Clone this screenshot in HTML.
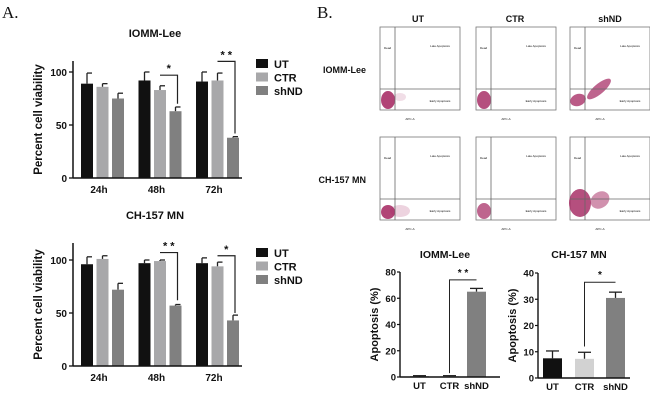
<!DOCTYPE html>
<html><head><meta charset="utf-8"><style>
html,body{margin:0;padding:0;background:#fff;}
svg{display:block;font-family:"Liberation Sans",Arial,sans-serif;}
</style></head><body>
<svg id="fig" width="650" height="400" viewBox="0 0 650 400"></svg>
<script>
const groups=["24h","48h","72h"];
const seriesNames=["UT","CTR","shND"];
const iommUT=[89,92,91], iommUTe=[10,8,9];
const iommCTR=[86,83,92], iommCTRe=[3,4,7];
const iommSH=[75,63,38], iommSHe=[5,4,1];
const chUT=[96,97,97], chUTe=[7,3,5];
const chCTR=[101,99,94], chCTRe=[3,1,4];
const chSH=[72,57,43], chSHe=[6,1,5];
const viabTicks=[0,50,100];
const apoCats=["UT","CTR","shND"];
const apoIOMM=[0.5,0.5,65], apoIOMMe=[0.5,0.5,2.5];
const apoCH=[7.5,7.3,30.5], apoCHe=[2.8,2.5,2.2];
const apoIOMMTicks=[0,20,40,60,80];
const apoCHTicks=[0,10,20,30,40];

const NS="http://www.w3.org/2000/svg";
const svg=document.getElementById('fig');
function el(tag,attrs,parent,name){const e=document.createElementNS(NS,tag);for(const k in attrs)e.setAttribute(k,attrs[k]);
 
 
 (parent||svg).appendChild(e);return e;}
function txt(x,y,s,size,name,opts){const t=el('text',Object.assign({x:x,y:y,'font-size':size,'text-anchor':'middle',fill:'#111'},opts||{}),null,name);t.textContent=s;return t;}

txt(2,18,"A.",17,"panel-a-label",{'text-anchor':'start','font-family':'Liberation Serif'});
txt(317,18,"B.",17,"panel-b-label",{'text-anchor':'start','font-family':'Liberation Serif'});

const cols=["#111111","#a8a8aa","#808080"];
function viab(title,y0,y100,top,ut,ute,ctr,ctre,sh,she,sig,legY){
 const ax=73, xend=242;
 const Y=v=>y0+(y100-y0)*v/100;
 txt(155,top-24,title,11,"chart-title",{'font-weight':'bold'});
 const sets=[[ut,ute],[ctr,ctre],[sh,she]];
 groups.forEach((g,gi)=>{
  const gx=81+gi*57.5;
  sets.forEach((s,si)=>{
   const x=gx+si*15.5, w=12, v=s[0][gi], e=s[1][gi];
   el('line',{x1:x+w/2,x2:x+w/2,y1:Y(v),y2:Y(v+e),stroke:'#222','stroke-width':1.3},null,'error-bar');
   el('line',{x1:x+w/2,x2:x+w-1,y1:Y(v+e),y2:Y(v+e),stroke:'#222','stroke-width':1.3},null,'error-cap');
   el('rect',{x:x,y:Y(v),width:w,height:y0-Y(v),fill:cols[si]},null,'bar-'+seriesNames[si].toLowerCase()+'-'+g);
  });
  txt(gx+18,y0+15,g,10,"x-tick-label",{'font-weight':'bold'});
 });
 sig.forEach(sg=>{
  const gi=sg[0], gx=81+gi*57.5;
  const x1=gx+15.5+6, x2=gx+31+8, hy=Y(sg[1]);
  el('path',{d:`M${x1} ${hy} H${x2} V${Y(sg[2])}`,fill:'none',stroke:'#222','stroke-width':1.2},null,'significance-bracket');
  txt((x1+x2)/2,hy-3,sg[3],11,"significance-stars",{'font-weight':'bold'});
 });
 el('line',{x1:ax,x2:ax,y1:top,y2:y0,stroke:'#111','stroke-width':1.5},null,'y-axis');
 el('line',{x1:ax,x2:xend,y1:y0,y2:y0,stroke:'#111','stroke-width':1.5},null,'x-axis');
 viabTicks.forEach(t=>{el('line',{x1:ax-4,x2:ax,y1:Y(t),y2:Y(t),stroke:'#111','stroke-width':1.3},null,'y-tick');
  txt(ax-6,Y(t)+4,String(t),10,"y-tick-label",{'text-anchor':'end','font-weight':'bold'});});
 txt(0,0,"Percent cell viability",11.5,"y-axis-title",{'font-weight':'bold',transform:`translate(42,${(top+y0)/2}) rotate(-90)`});
 seriesNames.forEach((n,i)=>{
  el('rect',{x:256,y:legY+i*13.5,width:12,height:9,fill:cols[i]},null,'legend-swatch-'+n.toLowerCase());
  txt(274,legY+i*13.5+9,n,11,"legend-entry",{'text-anchor':'start','font-weight':'bold'});
 });
}
viab("IOMM-Lee",178,72,61,iommUT,iommUTe,iommCTR,iommCTRe,iommSH,iommSHe,[[1,97,70,"*"],[2,110,42,"* *"]],59);
viab("CH-157 MN",366,260,243,chUT,chUTe,chCTR,chCTRe,chSH,chSHe,[[1,107,62,"* *"],[2,104,50,"*"]],248);

function apo(title,ax,xend,y0,ytop,tmax,ticks,vals,errs,barX,barC,sig){
 const Y=v=>y0+(ytop-y0)*v/tmax;
 txt((ax+xend)/2-5,258,title,10.5,"apoptosis-chart-title",{'font-weight':'bold'});
 vals.forEach((v,i)=>{
  const x=barX[i], w=19, e=errs[i];
  el('line',{x1:x+w/2,x2:x+w/2,y1:Y(v),y2:Y(v+e),stroke:'#222','stroke-width':1.3},null,'error-bar');
  el('line',{x1:x+3,x2:x+w-3,y1:Y(v+e),y2:Y(v+e),stroke:'#222','stroke-width':1.3},null,'error-cap');
  el('rect',{x:x,y:Y(v),width:w,height:y0-Y(v),fill:barC[i]},null,'bar-'+apoCats[i].toLowerCase());
  txt(x+w/2,y0+12,apoCats[i],9.5,"x-tick-label",{'font-weight':'bold'});
 });
 const xa=barX[1]+9.5, xb=barX[2]+9.5;
 el('path',{d:`M${xa} ${Y(sig[1])} V${Y(sig[0])} H${xb}`,fill:'none',stroke:'#222','stroke-width':1},null,'significance-bracket');
 txt((xa+xb)/2,Y(sig[0])-4,sig[2],10,"significance-stars",{'font-weight':'bold'});
 el('line',{x1:ax,x2:ax,y1:ytop,y2:y0,stroke:'#111','stroke-width':1.4},null,'y-axis');
 el('line',{x1:ax,x2:xend,y1:y0,y2:y0,stroke:'#111','stroke-width':1.4},null,'x-axis');
 ticks.forEach(t=>{el('line',{x1:ax-3,x2:ax,y1:Y(t),y2:Y(t),stroke:'#111','stroke-width':1.2},null,'y-tick');
  txt(ax-4,Y(t)+3.5,String(t),9.5,"y-tick-label",{'text-anchor':'end','font-weight':'bold'});});
 txt(0,0,"Apoptosis (%)",11,"y-axis-title",{'font-weight':'bold',transform:`translate(${ax-22},${(ytop+y0)/2}) rotate(-90)`});
}
apo("IOMM-Lee",400,500,377,272,80,apoIOMMTicks,apoIOMM,apoIOMMe,[410,440,467],["#111","#999","#808080"],[74,3,"* *"]);
apo("CH-157 MN",538,630,378,273,40,apoCHTicks,apoCH,apoCHe,[543,575,606],["#111","#d2d2d2","#808080"],[36.5,12,"*"]);

// Flow cytometry panels
txt(418,22,"UT",9,"flow-col-ut",{'font-weight':'bold'});
txt(515,22,"CTR",9,"flow-col-ctr",{'font-weight':'bold'});
txt(610,22,"shND",9,"flow-col-shnd",{'font-weight':'bold'});
txt(366,73,"IOMM-Lee",9,"flow-row-iomm",{'text-anchor':'end','font-weight':'bold'});
txt(366,183,"CH-157 MN",9,"flow-row-ch157",{'text-anchor':'end','font-weight':'bold'});
const panelX=[380,476,570], rowY=[27,137];
// [cx, cy, rx, ry, opacity, rotation] in panel coords
const blobs=[
 [[[8,73,7,9,0.85,0],[20,70,6,4,0.15,0]],[[8,73,7,9,0.8,0]],[[8,73,8,6,0.75,-20],[29,62,15,5,0.7,-40]]],
 [[[8,75,7,7,0.85,0],[20,74,10,6,0.2,0]],[[8,74,7,8,0.7,0]],[[10,66,11,14,0.8,0],[30,63,10,8,0.5,-35]]]
];
rowY.forEach((py,r)=>panelX.forEach((px,c)=>{
 el('rect',{x:px,y:py,width:80,height:83,fill:'#fff',stroke:'#777','stroke-width':0.8},null,'flow-plot-frame');
 blobs[r][c].forEach(b=>el('ellipse',{cx:px+b[0],cy:py+b[1],rx:b[2],ry:b[3],fill:'#a3235e',opacity:b[4],transform:`rotate(${b[5]} ${px+b[0]} ${py+b[1]})`},null,'flow-dots'));
 el('line',{x1:px+15,x2:px+15,y1:py,y2:py+83,stroke:'#666','stroke-width':0.8},null,'gate-vertical');
 el('line',{x1:px,x2:px+80,y1:py+62,y2:py+62,stroke:'#666','stroke-width':0.8},null,'gate-horizontal');
 txt(px+4,py+22,"Dead",3,"quadrant-dead",{'text-anchor':'start'});
 txt(px+60,py+20,"Late Apoptosis",3,"quadrant-late");
 txt(px+60,py+75,"Early Apoptosis",3,"quadrant-early");
 txt(px+30,py+93,"APC-A",3,"flow-x-label");
}));
</script>
</body></html>
